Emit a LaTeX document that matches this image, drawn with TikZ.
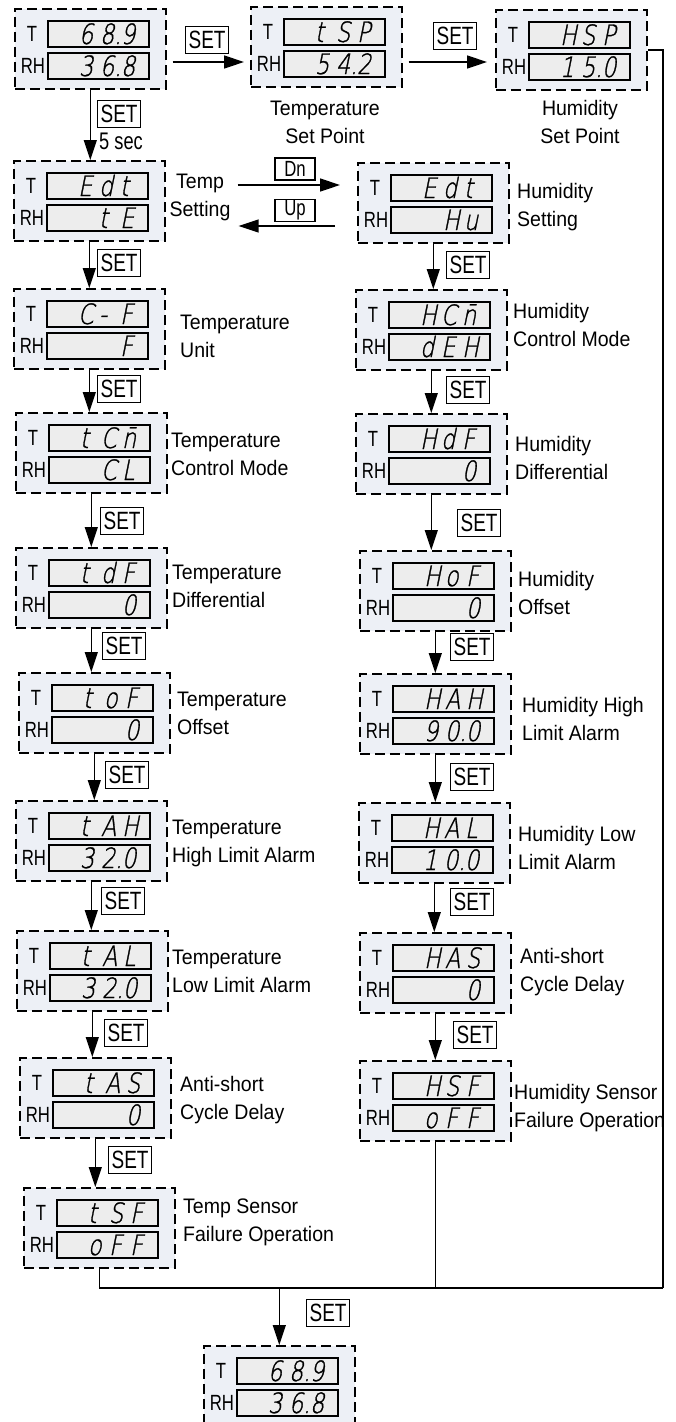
\documentclass[tikz,border=0pt]{standalone}
\usepackage{fontspec}
\setmainfont{Liberation Sans}[FakeStretch=0.93]
\newfontfamily\narrowfont{Liberation Sans}[FakeStretch=0.76]
\newfontfamily\segfont{DejaVu Sans ExtraLight}[FakeStretch=0.8, FakeSlant=0.2, FakeBold=1]
\usetikzlibrary{arrows.meta,calc}
\definecolor{boxbg}{HTML}{EDF0F6}
\definecolor{dispbg}{HTML}{EDEDED}
\newcommand\dg[1]{\makebox[21pt][l]{#1}}
\newcommand\dsp[3]{\dg{#1}\dg{#2}\dg{#3}}
\newcommand\mkpanel[5]{%
  \node[panelbox] (#1) at (#2,#3) {};
  \node[dispbox] (#1t) at ($(#1.north west)+(84.5,26)$) {#4};
  \node[dispbox] (#1r) at ($(#1.north west)+(84.5,58)$) {#5};
  \node[tlab] (#1tl) at ($(#1.north west)+(18,26)$) {T};
  \node[tlab] (#1rl) at ($(#1.north west)+(19,58)$) {RH};
}
\tikzset{
  panelbox/.style={draw, dash pattern=on 10pt off 5pt, line width=1.6pt, fill=boxbg,
    minimum width=151pt, minimum height=80pt, inner sep=0pt, anchor=north west},
  dispbox/.style={draw, line width=1.5pt, fill=dispbg, minimum width=101pt, minimum height=26pt,
    inner xsep=7pt, inner ysep=0pt, text width=87pt, align=right, text height=20pt, text depth=0pt,
    font=\segfont\fontsize{28}{28}\selectfont},
  tlab/.style={inner sep=0pt, font=\narrowfont\fontsize{22}{22}\selectfont},
  lab/.style={inner sep=0pt, align=left, anchor=west, font=\fontsize{21}{28}\selectfont},
  setbox/.style={draw, line width=1.2pt, minimum width=43pt, minimum height=27pt, inner sep=0pt,
    anchor=west, font=\narrowfont\fontsize{25}{25}\selectfont},
  keybox/.style={draw, line width=1.2pt, minimum width=40pt, minimum height=22pt, inner sep=0pt,
    font=\narrowfont\fontsize{22}{22}\selectfont},
  conn/.style={line width=1.4pt},
  arr/.style={line width=1.4pt, -{Triangle[length=20pt,width=13pt]}},
}
\begin{document}
\begin{tikzpicture}[x=1pt,y=-1pt]
\useasboundingbox (0,0) rectangle (676,1422);
% panels
\mkpanel{b0}{14}{8}{\dsp{6}{8.}{9}}{\dsp{3}{6.}{8}}
\mkpanel{tsp}{250}{6}{\dsp{t}{S}{P}}{\dsp{5}{4.}{2}}
\mkpanel{hsp}{495}{9}{\dsp{H}{S}{P}}{\dsp{1}{5.}{0}}
\mkpanel{edt}{13}{160}{\dsp{E}{d}{t}}{\dsp{}{t}{E}}
\mkpanel{hu}{357}{162}{\dsp{E}{d}{t}}{\dsp{}{H}{u}}
\mkpanel{cf}{13}{288}{\dsp{C}{-}{F}}{\dsp{}{}{F}}
\mkpanel{hcn}{355}{289}{\dsp{H}{C}{n̄}}{\dsp{d}{E}{H}}
\mkpanel{tcn}{15}{412}{\dsp{t}{C}{n̄}}{\dsp{}{C}{L}}
\mkpanel{hdf}{355}{413}{\dsp{H}{d}{F}}{\dsp{}{}{0}}
\mkpanel{tdf}{15}{547}{\dsp{t}{d}{F}}{\dsp{}{}{0}}
\mkpanel{hof}{359}{550}{\dsp{H}{o}{F}}{\dsp{}{}{0}}
\mkpanel{tof}{18}{672}{\dsp{t}{o}{F}}{\dsp{}{}{0}}
\mkpanel{hah}{359}{673}{\dsp{H}{A}{H}}{\dsp{9}{0.}{0}}
\mkpanel{tah}{15}{800}{\dsp{t}{A}{H}}{\dsp{3}{2.}{0}}
\mkpanel{hal}{358}{802}{\dsp{H}{A}{L}}{\dsp{1}{0.}{0}}
\mkpanel{tal}{16}{930}{\dsp{t}{A}{L}}{\dsp{3}{2.}{0}}
\mkpanel{has}{359}{932}{\dsp{H}{A}{S}}{\dsp{}{}{0}}
\mkpanel{tas}{19}{1057}{\dsp{t}{A}{S}}{\dsp{}{}{0}}
\mkpanel{hsf}{359}{1060}{\dsp{H}{S}{F}}{\dsp{o}{F}{F}}
\mkpanel{tsf}{23}{1187}{\dsp{t}{S}{F}}{\dsp{o}{F}{F}}
\mkpanel{fin}{203}{1345}{\dsp{6}{8.}{9}}{\dsp{3}{6.}{8}}
% labels
\node[lab, anchor=center, align=center] (tspl) at (325,122) {Temperature\\Set Point};
\node[lab, anchor=center, align=center] (hspl) at (580,122) {Humidity\\Set Point};
\node[lab, anchor=center, align=center] (edtl) at (200,197.5) {Temp\\Setting};
\node[lab] (hul) at (517,207.5) {Humidity\\Setting};
\node[lab] (cfl) at (180,336) {Temperature\\Unit};
\node[lab] (hcnl) at (513,325) {Humidity\\Control Mode};
\node[lab] (tcnl) at (171,454) {Temperature\\Control Mode};
\node[lab] (hdfl) at (515,457.5) {Humidity\\Differential};
\node[lab] (tdfl) at (172,586) {Temperature\\Differential};
\node[lab] (hofl) at (518,592.5) {Humidity\\Offset};
\node[lab] (tofl) at (177,713) {Temperature\\Offset};
\node[lab] (hahl) at (522,719) {Humidity High\\Limit Alarm};
\node[lab] (tahl) at (172,843) {Temperature\\High Limit Alarm};
\node[lab] (hall) at (518,847.5) {Humidity Low\\Limit Alarm};
\node[lab] (tall) at (172,971) {Temperature\\Low Limit Alarm};
\node[lab] (hasl) at (520,972.5) {Anti-short\\Cycle Delay};
\node[lab] (tasl) at (180,1100) {Anti-short\\Cycle Delay};
\node[lab] (hsfl) at (514,1108) {Humidity Sensor\\Failure Operation};
\node[lab] (tsfl) at (183,1222.5) {Temp Sensor\\Failure Operation};
% key labels
\node[setbox] (st1) at (185,40) {SET};
\node[setbox] (st2) at (433,36) {SET};
\node[setbox] (s1) at (97,114) {SET};
\node[lab, font=\narrowfont\fontsize{24}{24}\selectfont] (fivesec) at (99,141) {5 sec};
\node[setbox] (s2) at (97,263) {SET};
\node[setbox] (s3) at (97,389) {SET};
\node[setbox] (s4) at (100,521) {SET};
\node[setbox] (s5) at (102,646) {SET};
\node[setbox] (s6) at (105,775) {SET};
\node[setbox] (s7) at (101,901) {SET};
\node[setbox] (s8) at (104,1033) {SET};
\node[setbox] (s9) at (108,1160) {SET};
\node[setbox] (s10) at (306,1313) {SET};
\node[setbox] (h1) at (446,265) {SET};
\node[setbox] (h2) at (446,390) {SET};
\node[setbox] (h3) at (457,523) {SET};
\node[setbox] (h4) at (450,647) {SET};
\node[setbox] (h5) at (450,777) {SET};
\node[setbox] (h6) at (450,902) {SET};
\node[setbox] (h7) at (453,1035) {SET};
\node[keybox] (dn) at (295,169) {Dn};
\node[keybox] (up) at (295,210.5) {Up};
% helper coordinates
\coordinate (ty) at (0,62);
\coordinate (dny) at (0,185);
\coordinate (upy) at (0,226);
\coordinate (rc) at (663,1288);
% connectors
\draw[arr, shorten <=6pt, shorten >=6pt] (b0.east |- ty) -- (tsp.west |- ty);
\draw[arr, shorten <=6pt, shorten >=8pt] (tsp.east |- ty) -- (hsp.west |- ty);
\draw[arr] (b0.south) -- (b0.south |- edt.north);
\draw[arr, shorten <=7pt, shorten >=17pt] (edtl.east |- dny) -- (hu.west |- dny);
\draw[arr, shorten <=22pt, shorten >=8pt] (hu.west |- upy) -- (edtl.east |- upy);
\draw[arr] (edt.south) -- (edt.south |- cf.north);
\draw[arr] (cf.south) -- (cf.south |- tcn.north);
\draw[arr] (tcn.south) -- (tcn.south |- tdf.north);
\draw[arr] (tdf.south) -- (tdf.south |- tof.north);
\draw[arr] (tof.south) -- (tof.south |- tah.north);
\draw[arr] (tah.south) -- (tah.south |- tal.north);
\draw[arr] (tal.south) -- (tal.south |- tas.north);
\draw[arr] (tas.south) -- (tas.south |- tsf.north);
\draw[arr] (hu.south) -- (hu.south |- hcn.north);
\draw[arr] (hcn.south) -- (hcn.south |- hdf.north);
\draw[arr] (hdf.south) -- (hdf.south |- hof.north);
\draw[arr] (hof.south) -- (hof.south |- hah.north);
\draw[arr] (hah.south) -- (hah.south |- hal.north);
\draw[arr] (hal.south) -- (hal.south |- has.north);
\draw[arr] (has.south) -- (has.south |- hsf.north);
\draw[conn] (hsp.east) -| (rc);
\draw[conn] (tsf.south) |- (rc);
\draw[conn] (hsf.south) -- (hsf.south |- rc);
\draw[arr] (fin.north |- rc) -- (fin.north);
\end{tikzpicture}
\end{document}
